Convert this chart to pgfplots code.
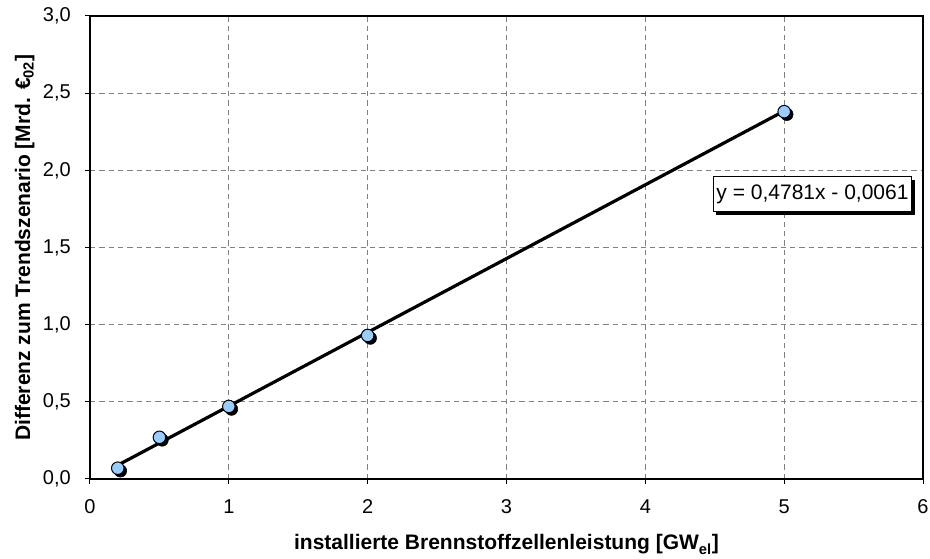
\documentclass[border=0pt]{standalone}
\usepackage{pgfplots}
\pgfplotsset{compat=1.18}
\usepackage{fontspec}
\setmainfont{Liberation Sans}
\usetikzlibrary{shadows}
\definecolor{mblue}{HTML}{99CCFF}
\definecolor{gridgray}{HTML}{808080}
\begin{document}
\begin{tikzpicture}
\begin{axis}[
  scale only axis,
  width=624.75pt, height=347.25pt,
  xmin=0, xmax=6, ymin=0, ymax=3,
  xtick={0,1,2,3,4,5,6},
  ytick={0,0.5,1,1.5,2,2.5,3},
  grid=major,
  major grid style={gridgray, line width=0.75pt, dash pattern=on 4pt off 3pt},
  axis line style={black, line width=0.8pt},
  tick style={black, line width=0.75pt},
  tick align=outside,
  major tick length=3.75pt,
  xtick pos=bottom, ytick pos=left,
  /pgf/number format/assume math mode=true,
  ticklabel style={font=\fontsize{15}{18}\selectfont},
  yticklabel style={/pgf/number format/.cd, fixed, fixed zerofill, precision=1, use comma, /tikz/.cd, anchor=east, inner sep=0pt, xshift=-10.5pt},
  xticklabel style={/pgf/number format/.cd, fixed, precision=0, /tikz/.cd, anchor=north, inner sep=0pt, yshift=-11.25pt},
  xlabel={installierte Brennstoffzellenleistung [GW\textsubscript{el}]},
  ylabel={Differenz zum Trendszenario [Mrd. €\textsubscript{02}]},
  xlabel style={font=\fontsize{15.75}{19}\selectfont\bfseries, at={(axis description cs:0.5,-0.1533)}, anchor=base},
  ylabel style={font=\fontsize{15.75}{19}\selectfont\bfseries, at={(axis description cs:-0.072,0.5)}, anchor=base},
  clip=false,
]
% marker shadows
\addplot[only marks, mark=*, mark size=4.7pt, mark options={fill=black, draw=black, xshift=2pt, yshift=-2pt}]
  coordinates {(0.2,0.07) (0.5,0.27) (1,0.47) (2,0.93) (5,2.38)};
% markers
\addplot[only marks, mark=*, mark size=4.7pt, mark options={fill=mblue, draw=black, line width=0.75pt}]
  coordinates {(0.2,0.07) (0.5,0.27) (1,0.47) (2,0.93) (5,2.38)};
% trend line y = 0.4781x - 0.0061
\addplot[black, line width=2.4pt, no marks] coordinates {(0.2,0.0895) (5,2.3844)};
\node[draw=black, line width=0.75pt, fill=white, inner xsep=2.5pt, minimum height=26.25pt,
      drop shadow={shadow xshift=2.2pt, shadow yshift=-2.2pt, fill=black, opacity=1},
      font=\fontsize{15.75}{19}\selectfont] at (axis cs:5.204,1.844) {y = 0,4781x - 0,0061};
\coordinate (SW) at (rel axis cs:0,0);
\coordinate (NE) at (rel axis cs:1,1);
\end{axis}
\path (SW) ++(-67.5pt,-59.25pt) coordinate (BB1);
\path (NE) ++(5.25pt,12pt) coordinate (BB2);
\path (BB1) rectangle (BB2);
\end{tikzpicture}
\end{document}
